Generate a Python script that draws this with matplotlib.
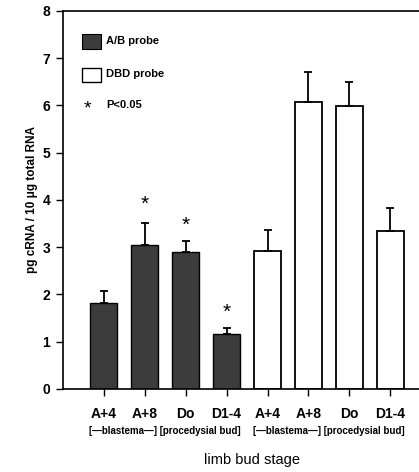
import numpy as np
import matplotlib
matplotlib.use("Agg")
import matplotlib.pyplot as plt

plt.rcParams['font.family'] = ['Liberation Sans', 'DejaVu Sans']

# values
stages = ["A+4", "A+8", "Do", "D1-4"]
ab_mean = [1.82, 3.04, 2.89, 1.16]
ab_err = [0.26, 0.47, 0.24, 0.13]
dbd_mean = [2.91, 6.07, 5.99, 3.34]
dbd_err = [0.46, 0.64, 0.50, 0.48]
signif_y = [None, 3.90, 3.47, 1.62]   # asterisk heights on A/B bars
group_labels = ["[\u2014blastema\u2014] [procedysial bud]"] * 2

dark = "#3c3c3c"

fig = plt.figure(figsize=(4.19, 4.72), dpi=100)
ax = fig.add_axes([0.150, 0.176, 0.850, 0.801])

x_ab = np.arange(1, 5)
x_dbd = np.arange(5, 9)
w = 0.66
ax.bar(x_ab, ab_mean, width=w, color=dark, edgecolor="black", linewidth=1.0, zorder=2)
ax.bar(x_dbd, dbd_mean, width=w, color="white", edgecolor="black", linewidth=1.3, zorder=2)
ax.errorbar(x_ab, ab_mean, yerr=[np.zeros(4), ab_err], fmt="none", ecolor="black",
            elinewidth=1.3, capsize=3, capthick=1.3, zorder=3)
ax.errorbar(x_dbd, dbd_mean, yerr=[np.zeros(4), dbd_err], fmt="none", ecolor="black",
            elinewidth=1.3, capsize=3, capthick=1.3, zorder=3)

for xi, yi in zip(x_ab, signif_y):
    if yi is not None:
        ax.text(xi, yi, "*", ha="center", va="center", fontsize=15)

ax.set_xlim(0, 8.7)
ax.set_ylim(0, 8)
ax.set_yticks(range(9))
ax.set_yticklabels([str(i) for i in range(9)], fontsize=10, fontweight="bold")
ax.set_xticks(np.arange(1, 9))
ax.set_xticklabels(stages + stages, fontsize=10, fontweight="bold")
ax.tick_params(axis="both", direction="out", length=5, width=1.0, color="black")
ax.tick_params(axis="x", pad=8)
ax.tick_params(axis="y", pad=4)
ax.spines["right"].set_visible(False)
for s in ["left", "bottom", "top"]:
    ax.spines[s].set_linewidth(1.2)

ax.set_ylabel("pg cRNA / 10 \u03bcg total RNA", fontsize=8.5, fontweight="bold", labelpad=3)

# stage group labels under the ticks
for cx, lab in zip([2.5, 6.5], group_labels):
    ax.text(cx, -0.9, lab, ha="center", va="center", fontsize=7, fontweight="bold",
            clip_on=False)
ax.text(4.63, -1.5, "limb bud stage", ha="center", va="center", fontsize=10.5,
        clip_on=False)

# legend drawn by hand like the original
ax.bar([0.7], [0.3], width=0.45, bottom=[7.2], color=dark, edgecolor="black", linewidth=0.8)
ax.bar([0.7], [0.3], width=0.45, bottom=[6.5], color="white", edgecolor="black", linewidth=1.0)
ax.text(1.05, 7.37, "A/B probe", va="center", fontsize=8, fontweight="bold")
ax.text(1.05, 6.67, "DBD probe", va="center", fontsize=8, fontweight="bold")
ax.text(0.6, 5.92, "*", ha="center", va="center", fontsize=14)
ax.text(1.05, 6.0, "P<0.05", va="center", fontsize=8, fontweight="bold")

fig.savefig("out.png", dpi=100)
